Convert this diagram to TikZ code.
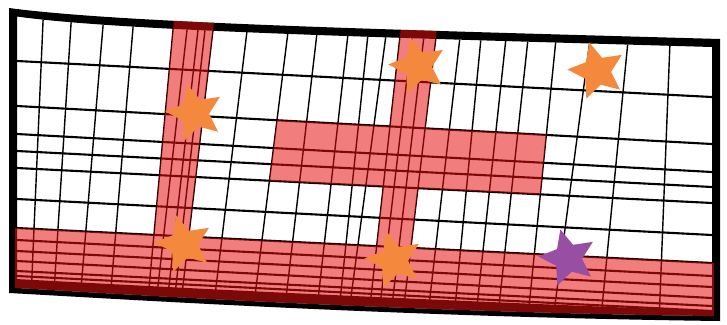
\documentclass[tikz,border=0pt]{standalone}
\usetikzlibrary{calc,shapes.geometric}
\definecolor{ovred}{RGB}{231,15,15}
\definecolor{starorange}{RGB}{244,136,60}
\definecolor{starpurple}{RGB}{152,78,163}
\newcommand\gv[4]{\draw[vline] ($(#1,#2)!-0.15!(#3,#4)$) -- ($(#1,#2)!1.2!(#3,#4)$);}
\newcommand\gh[2]{\draw[hline] ($(17,#1)!-0.05!(712,#2)$) -- ($(17,#1)!1.05!(712,#2)$);}
\newcommand\outerpath{(9,8) .. controls (120,23) and (400,30) .. (720,39) -- (720,321) .. controls (400,317) and (120,299) .. (9,293) -- cycle}
\newcommand\innerpath{(17,16.5) .. controls (120,31) and (400,38) .. (712,47) -- (712,316) .. controls (400,312) and (120,294) .. (17,288) -- cycle}
\begin{document}
\begin{tikzpicture}[x=0.03cm,y=-0.03cm,
  hline/.style={line width=1.8pt,black},
  vline/.style={line width=1.2pt,black},
  redover/.style={fill=ovred,fill opacity=0.54},
  starbase/.style={star,star points=5,star point ratio=2.1,minimum size=1.78cm,inner sep=0pt,draw=none,shape border rotate=15},
  ostar/.style={starbase,fill=starorange},
  pstar/.style={starbase,fill=starpurple}]
\useasboundingbox (0,0) rectangle (727,324);
% reference lines
\coordinate (c1aT) at (173,30); \coordinate (c1aB) at (150,277);
\coordinate (c1eT) at (213,30); \coordinate (c1eB) at (184,277);
\coordinate (c2aT) at (400,36); \coordinate (c2aB) at (371,297);
\coordinate (c2dT) at (436,37); \coordinate (c2dB) at (405,297);
\coordinate (l6T) at (288,32); \coordinate (l6B) at (257,280);
\coordinate (l15T) at (556,39); \coordinate (l15B) at (530,297);
\coordinate (h2L) at (17,106); \coordinate (h2R) at (712,144);
\coordinate (h5L) at (17,168); \coordinate (h5R) at (712,203);
\coordinate (h7L) at (17,228); \coordinate (h7R) at (712,263);
% grid
\begin{scope}
\clip \innerpath;
\fill[black] (16,279) .. controls (200,289) and (400,299) .. (713,311) -- (713,320) -- (16,320) -- cycle;
\gv{43}{22}{32}{275}
\gv{71}{24}{55}{276}
\gv{103}{26}{82}{277}
\gv{133}{28}{112}{277}
\gv{173}{30}{150}{277}
\gv{187}{30}{159}{277}
\gv{198}{30}{170}{277}
\gv{205}{30}{177}{277}
\gv{213}{30}{184}{277}
\gv{247}{31}{217}{279}
\gv{288}{32}{257}{280}
\gv{317}{33}{288}{281}
\gv{348}{34}{320}{282}
\gv{368}{34}{342}{282}
\gv{386}{35}{353}{282}
\gv{400}{36}{371}{297}
\gv{412}{36}{381}{297}
\gv{424}{36}{393}{297}
\gv{436}{37}{405}{297}
\gv{460}{37}{430}{297}
\gv{481}{38}{456}{297}
\gv{506}{38}{478}{297}
\gv{528}{39}{500}{297}
\gv{556}{39}{530}{297}
\gv{590}{40}{556}{297}
\gv{628}{41}{603}{297}
\gv{670}{42}{660}{297}
\gh{61}{97}
\gh{106}{144}
\gh{134}{172}
\gh{151}{187}
\gh{168}{203}
\gh{199}{235}
\gh{228}{263}
\gh{240}{276}
\gh{251}{287}
\gh{261}{298}
\gh{271}{306}
\gh{276}{311}
\end{scope}
% frame (outer minus inner)
\fill[black,even odd rule] \outerpath \innerpath;
% red overlay (single path so overlaps are not doubled)
\begin{scope}
\clip \outerpath;
\fill[redover]
  ($(c1aT)!-0.15!(c1aB)$) -- ($(c1eT)!-0.15!(c1eB)$) -- (intersection of c1eT--c1eB and h7L--h7R) -- (intersection of c1aT--c1aB and h7L--h7R) -- cycle
  ($(c2aT)!-0.15!(c2aB)$) -- ($(c2dT)!-0.15!(c2dB)$) -- (intersection of c2dT--c2dB and h7L--h7R) -- (intersection of c2aT--c2aB and h7L--h7R) -- cycle
  (intersection of l6T--l6B and h2L--h2R) -- (intersection of l15T--l15B and h2L--h2R) -- (intersection of l15T--l15B and h5L--h5R) -- (intersection of l6T--l6B and h5L--h5R) -- cycle
  (15,228) -- (714,263) -- (714,316) .. controls (400,312) and (120,294) .. (15,288) -- cycle;
\end{scope}
% stars
\node[ostar] (s1) at (195,113) {};
\node[ostar] (s2) at (418,66) {};
\node[ostar] (s3) at (597,71) {};
\node[ostar] (s4) at (184,244) {};
\node[ostar] (s5) at (394,260) {};
\node[pstar] (s6) at (568,258) {};
\end{tikzpicture}
\end{document}
